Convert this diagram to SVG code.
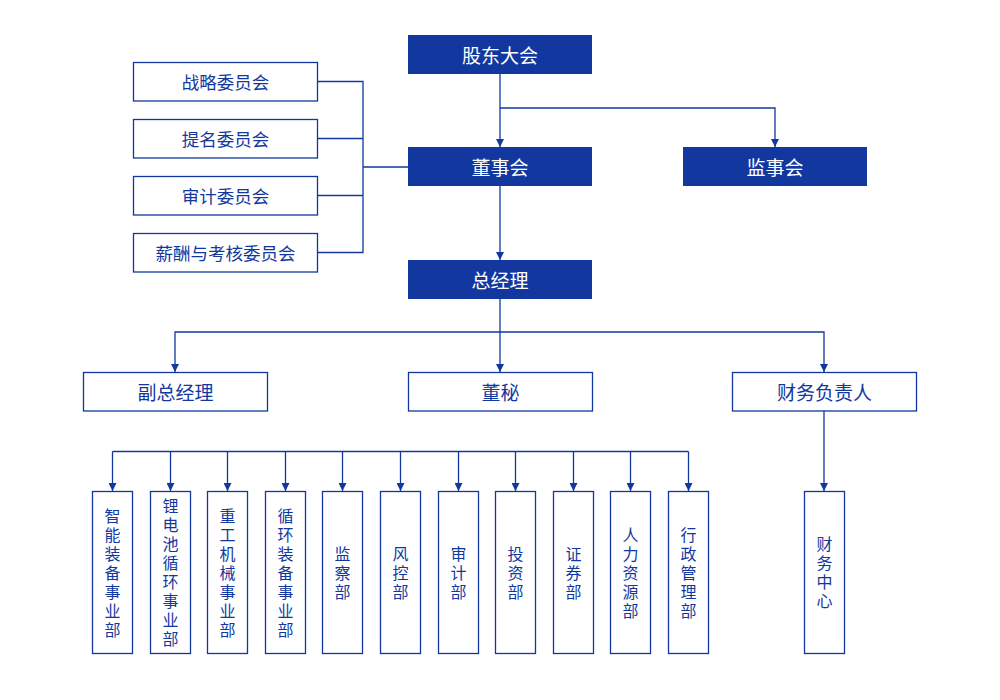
<svg xmlns="http://www.w3.org/2000/svg" width="1000" height="700" viewBox="0 0 1000 700">
<style>
.f{fill:#1238a0;stroke:none}
.o{fill:#fff;stroke:#1238a0;stroke-width:1.3}
.tw{fill:#fff;font-family:"Noto Sans CJK SC","Noto Sans",sans-serif;font-size:19px;text-anchor:middle;dominant-baseline:central}
.tb{fill:#1238a0;font-family:"Noto Sans CJK SC","Noto Sans",sans-serif;font-size:19px;text-anchor:middle;dominant-baseline:central}
.tc{fill:#1238a0;font-family:"Noto Sans CJK SC","Noto Sans",sans-serif;font-size:17.5px;text-anchor:middle;dominant-baseline:central}
.tv{fill:#1238a0;font-family:"Noto Sans CJK SC","Noto Sans",sans-serif;font-size:16px;text-anchor:middle;writing-mode:vertical-rl;letter-spacing:3px}
.c{fill:none;stroke:#1238a0;stroke-width:1.3}
</style>
<defs>
<marker id="a" viewBox="0 0 10 10" refX="10" refY="5" markerWidth="8" markerHeight="8" markerUnits="userSpaceOnUse" orient="auto">
<path d="M0,0 L10,5 L0,10 Z" fill="#1238a0"/>
</marker>
</defs>
<rect width="1000" height="700" fill="#fff"/>
<g id="connectors">
<path class="c" d="M500,74 V147" marker-end="url(#a)"/>
<path class="c" d="M500,108 H775 V147" marker-end="url(#a)"/>
<path class="c" d="M500,186 V260" marker-end="url(#a)"/>
<path class="c" d="M317,81.5 H363 V252.5 H317 M317,138.5 H363 M317,195.5 H363 M363,167 H408"/>
<path class="c" d="M500,299 V372" marker-end="url(#a)"/>
<path class="c" d="M500,332 H175 V372" marker-end="url(#a)"/>
<path class="c" d="M500,332 H824 V372" marker-end="url(#a)"/>
<path class="c" d="M824,411 V491" marker-end="url(#a)"/>
<path class="c" d="M112.5,451.5 H688.5"/>
<path class="c" d="M112.5,451.5 V491" marker-end="url(#a)"/>
<path class="c" d="M170.5,451.5 V491" marker-end="url(#a)"/>
<path class="c" d="M227.5,451.5 V491" marker-end="url(#a)"/>
<path class="c" d="M285.5,451.5 V491" marker-end="url(#a)"/>
<path class="c" d="M342.5,451.5 V491" marker-end="url(#a)"/>
<path class="c" d="M400.5,451.5 V491" marker-end="url(#a)"/>
<path class="c" d="M458.5,451.5 V491" marker-end="url(#a)"/>
<path class="c" d="M515.5,451.5 V491" marker-end="url(#a)"/>
<path class="c" d="M573.5,451.5 V491" marker-end="url(#a)"/>
<path class="c" d="M630.5,451.5 V491" marker-end="url(#a)"/>
<path class="c" d="M688.5,451.5 V491" marker-end="url(#a)"/>
</g>
<g id="gudong"><rect class="f" x="408" y="35" width="184" height="39"/><text class="tw" x="500" y="54.5">股东大会</text></g>
<g id="dongshihui"><rect class="f" x="408" y="147" width="184" height="39"/><text class="tw" x="500" y="166.5">董事会</text></g>
<g id="jianshihui"><rect class="f" x="683" y="147" width="184" height="39"/><text class="tw" x="775" y="166.5">监事会</text></g>
<g id="zongjingli"><rect class="f" x="408" y="260" width="184" height="39"/><text class="tw" x="500" y="279.5">总经理</text></g>
<g id="zhanlue"><rect class="o" x="133.5" y="62.5" width="184" height="38.5"/><text class="tc" x="225.5" y="81.5">战略委员会</text></g>
<g id="timing"><rect class="o" x="133.5" y="119.5" width="184" height="38.5"/><text class="tc" x="225.5" y="138.5">提名委员会</text></g>
<g id="shenji-wy"><rect class="o" x="133.5" y="176.5" width="184" height="38.5"/><text class="tc" x="225.5" y="195.5">审计委员会</text></g>
<g id="xinchou"><rect class="o" x="133.5" y="233.5" width="184" height="38.5"/><text class="tc" x="225.5" y="252.5">薪酬与考核委员会</text></g>
<g id="fuzong"><rect class="o" x="83.5" y="372.5" width="184" height="38.5"/><text class="tb" x="175.5" y="391.5">副总经理</text></g>
<g id="dongmi"><rect class="o" x="408.5" y="372.5" width="184" height="38.5"/><text class="tb" x="500.5" y="391.5">董秘</text></g>
<g id="caiwufuzeren"><rect class="o" x="732.5" y="372.5" width="184" height="38.5"/><text class="tb" x="824.5" y="391.5">财务负责人</text></g>
<g id="d1"><rect class="o" x="92.5" y="491.5" width="40" height="162"/><text class="tv" x="112.5" y="574">智能装备事业部</text></g>
<g id="d2"><rect class="o" x="150.5" y="491.5" width="40" height="162"/><text class="tv" x="170.5" y="574">锂电池循环事业部</text></g>
<g id="d3"><rect class="o" x="207.5" y="491.5" width="40" height="162"/><text class="tv" x="227.5" y="574">重工机械事业部</text></g>
<g id="d4"><rect class="o" x="265.5" y="491.5" width="40" height="162"/><text class="tv" x="285.5" y="574">循环装备事业部</text></g>
<g id="d5"><rect class="o" x="322.5" y="491.5" width="40" height="162"/><text class="tv" x="342.5" y="574">监察部</text></g>
<g id="d6"><rect class="o" x="380.5" y="491.5" width="40" height="162"/><text class="tv" x="400.5" y="574">风控部</text></g>
<g id="d7"><rect class="o" x="438.5" y="491.5" width="40" height="162"/><text class="tv" x="458.5" y="574">审计部</text></g>
<g id="d8"><rect class="o" x="495.5" y="491.5" width="40" height="162"/><text class="tv" x="515.5" y="574">投资部</text></g>
<g id="d9"><rect class="o" x="553.5" y="491.5" width="40" height="162"/><text class="tv" x="573.5" y="574">证券部</text></g>
<g id="d10"><rect class="o" x="610.5" y="491.5" width="40" height="162"/><text class="tv" x="630.5" y="574">人力资源部</text></g>
<g id="d11"><rect class="o" x="668.5" y="491.5" width="40" height="162"/><text class="tv" x="688.5" y="574">行政管理部</text></g>
<g id="caiwuzhongxin"><rect class="o" x="804.5" y="491.5" width="40" height="162"/><text class="tv" x="824.5" y="574">财务中心</text></g>
</svg>
